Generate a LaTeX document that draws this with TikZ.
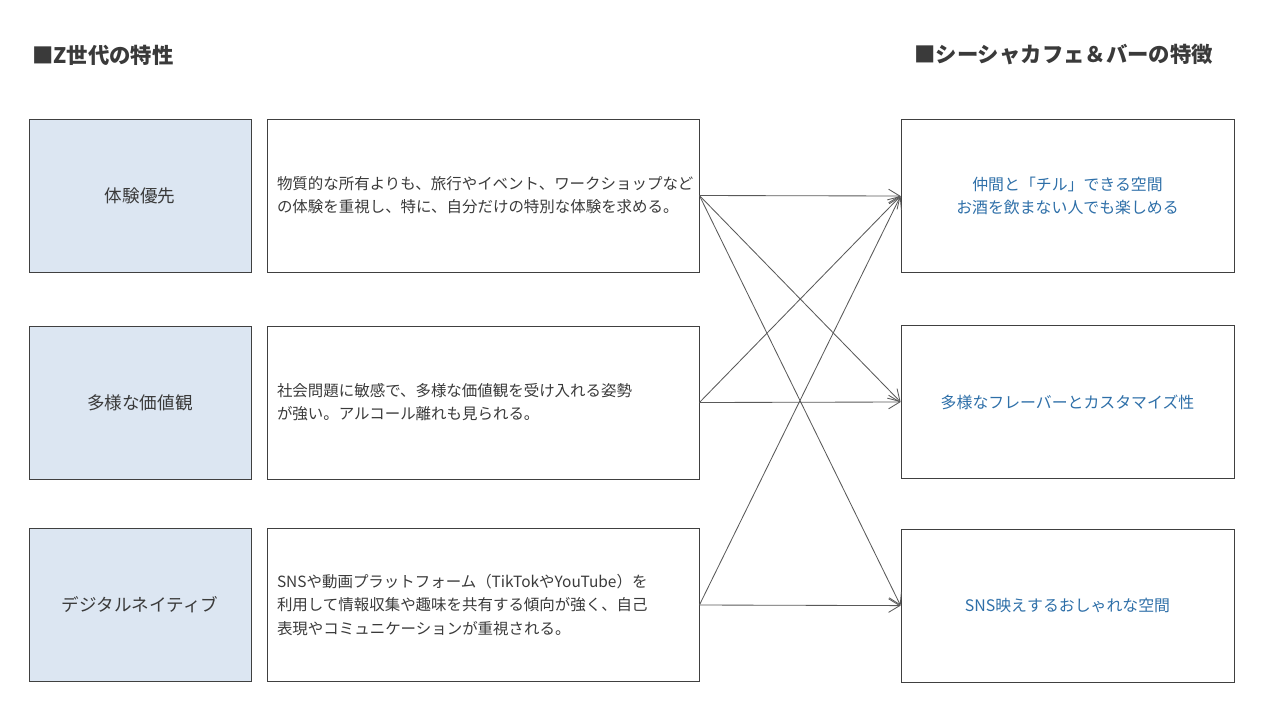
\documentclass[tikz,border=0pt]{standalone}
\usepackage{fontspec}
\setmainfont{Noto Sans CJK JP}
\usepackage{tikz}
\usetikzlibrary{arrows.meta}

\definecolor{boxline}{HTML}{404040}
\definecolor{textgray}{HTML}{3A3A3A}
\definecolor{paleblue}{HTML}{DCE6F2}
\definecolor{featblue}{HTML}{2E6FA8}
\definecolor{linegray}{HTML}{595959}

\begin{document}
\begin{tikzpicture}[
    labelbox/.style={rectangle, draw=boxline, line width=0.6pt, fill=paleblue, minimum width=5.55cm, minimum height=3.825cm, align=center, text=textgray, font=\fontsize{12.5}{16}\selectfont},
    descbox/.style={rectangle, draw=boxline, line width=0.6pt, minimum width=10.8cm, minimum height=3.825cm, inner xsep=0.25cm, text width=10.3cm, align=left, text=textgray, font=\fontsize{11}{16.4}\selectfont},
    featbox/.style={rectangle, draw=boxline, line width=0.6pt, minimum width=8.325cm, minimum height=3.825cm, align=center, text=featblue, font=\fontsize{11.3}{16.4}\selectfont},
    heading/.style={anchor=west, inner sep=0pt, text=textgray, font=\fontsize{15.2}{18}\selectfont\bfseries},
    arrow/.style={-{Straight Barb[length=2.8mm, width=3.4mm]}, draw=linegray, line width=0.6pt},
]
\useasboundingbox (0,0) rectangle (32,-18);

% Headings
\node[heading] (zhead) at (0.8, -1.375) {■Z世代の特性};
\node[heading] (shead) at (22.85, -1.375) {■シーシャカフェ＆バーの特徴};

% Z generation traits
\node[labelbox] (exp) at (3.5, -4.8875) {体験優先};
\node[labelbox] (div) at (3.5, -10.0625) {多様な価値観};
\node[labelbox] (dig) at (3.5, -15.125) {デジタルネイティブ};

\node[descbox] (expd) at (12.075, -4.8875) {物質的な所有よりも、旅行やイベント、ワークショップなど\\の体験を重視し、特に、自分だけの特別な体験を求める。};
\node[descbox] (divd) at (12.075, -10.0625) {社会問題に敏感で、多様な価値観を受け入れる姿勢\\が強い。アルコール離れも見られる。};
\node[descbox] (digd) at (12.075, -15.125) {SNSや動画プラットフォーム（TikTokやYouTube）を\\利用して情報収集や趣味を共有する傾向が強く、自己\\表現やコミュニケーションが重視される。};

% Shisha cafe features
\node[featbox] (chill) at (26.6875, -4.9) {仲間と「チル」できる空間\\お酒を飲まない人でも楽しめる};
\node[featbox] (flav) at (26.6875, -10.05) {多様なフレーバーとカスタマイズ性};
\node[featbox] (sns) at (26.6875, -15.14) {SNS映えするおしゃれな空間};

% Connections
\draw[arrow] (expd.east) -- (chill.west);
\draw[arrow] (expd.east) -- (flav.west);
\draw[arrow] (expd.east) -- (sns.west);
\draw[arrow] (divd.east) -- (chill.west);
\draw[arrow] (divd.east) -- (flav.west);
\draw[arrow] (digd.east) -- (chill.west);
\draw[arrow] (digd.east) -- (sns.west);

\end{tikzpicture}
\end{document}
